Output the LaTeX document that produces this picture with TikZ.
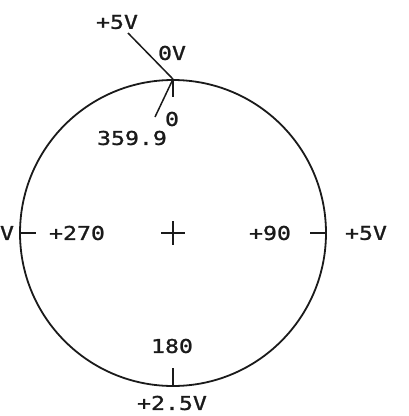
\documentclass[tikz,border=0pt]{standalone}
\usepackage{fontspec}
\setmonofont[FakeStretch=1.22,FakeBold=1.2]{DejaVu Sans Mono}
\usetikzlibrary{positioning,calc}
\definecolor{ink}{HTML}{1A1A1A}
\tikzset{lbl/.style={text=ink,font=\ttfamily\fontsize{19}{19}\selectfont,inner sep=0pt},pen/.style={draw=ink,line width=1.5pt},dial/.style={draw=ink,line width=1.8pt}}
\begin{document}
\begin{tikzpicture}[x=1pt,y=-1pt]
\useasboundingbox(0,0)rectangle(409,416);
\node[circle,dial,minimum size=306pt,inner sep=0pt](dial)at(173,233){};
\coordinate(top)at(dial.north);\coordinate(bot)at(dial.south);\coordinate(lft)at(dial.west);\coordinate(rgt)at(dial.east);
\node[lbl](v5top)at(117,22){+5V};\node[lbl](v0)at(172,53){0V};
\node[lbl](a0)at(172,119){0};\node[lbl](a359)at(132,138){359.9};
\node[lbl](vl)at(7,233){V};\node[lbl](a270)at(77,233){+270};
\node[lbl](a90)at(270,233){+90};\node[lbl](vr)at(366,233){+5V};
\node[lbl](a180)at(172,346){180};\node[lbl](vb)at(172,403){+2.5V};
\coordinate(wiper5)at(128,33);\coordinate(wiper0)at(155,117);
\draw[pen](wiper5)--(top);\draw[pen](top)--(wiper0);
\draw[pen](top)--++(0,18);\draw[pen](bot)--++(0,-19);\draw[pen](lft)--++(17,0);\draw[pen](rgt)--++(-17,0);
\draw[pen](dial.center)++(-12,0)--++(24,0);\draw[pen](dial.center)++(0,-12)--++(0,24);
\end{tikzpicture}
\end{document}
